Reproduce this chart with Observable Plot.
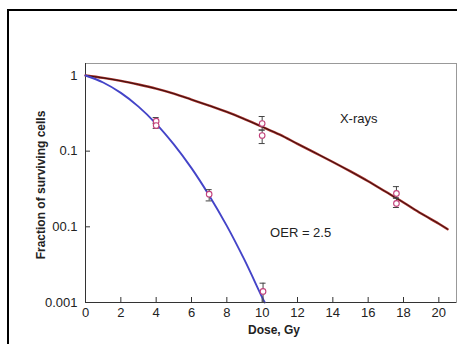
<!DOCTYPE html>
<html>
<head>
<meta charset="utf-8">
<script src="https://cdn.jsdelivr.net/npm/d3@7"></script>
<script src="https://cdn.jsdelivr.net/npm/@observablehq/plot@0.6"></script>
<style>
  html, body { margin: 0; padding: 0; background: #fff; }
  #wrap { position: relative; width: 457px; height: 344px; overflow: hidden; background: #fff; }
  #border { position: absolute; left: 7px; top: 9px; width: 600px; height: 500px;
            border-left: 2px solid #000; border-top: 2px solid #000; }
  #chart { position: absolute; left: 0; top: 0; }
</style>
</head>
<body>
<div id="wrap"><div id="border"></div><div id="chart"></div></div>
<script>
// X-ray curve (hypoxic, dark red)
const hypoxicDose = [0, 1, 2, 3, 4, 5, 6, 7, 8, 9, 10, 11, 12, 13, 14, 15, 16, 17, 18, 19, 20, 20.5];
const hypoxicSurv = [1, 0.93, 0.85, 0.76, 0.67, 0.575, 0.48, 0.40, 0.33, 0.265, 0.21, 0.165, 0.125, 0.095, 0.072, 0.054, 0.040, 0.029, 0.021, 0.015, 0.011, 0.0093];
// Blue curve (aerated)
const oxicDose = [0, 1, 2, 3, 4, 5, 6, 7, 8, 9, 10, 10.15];
const oxicSurv = [1, 0.808, 0.589, 0.388, 0.230, 0.123, 0.0597, 0.026, 0.0103, 0.00365, 0.00117, 0.001];

// Measured points with error bars
const hypoxicPtDose = [10, 10, 17.6, 17.6];
const hypoxicPtSurv = [0.232, 0.161, 0.0276, 0.0204];
const hypoxicPtLo   = [0.19, 0.126, 0.024, 0.018];
const hypoxicPtHi   = [0.287, 0.19, 0.034, 0.024];
const oxicPtDose = [4, 4, 7, 10.05];
const oxicPtSurv = [0.249, 0.218, 0.027, 0.0014];
const oxicPtLo   = [0.23, 0.2, 0.022, 0.001];
const oxicPtHi   = [0.278, 0.235, 0.031, 0.0018];

const xTicks = [0, 2, 4, 6, 8, 10, 12, 14, 16, 18, 20];
const yTicks = [1, 0.1, 0.01, 0.001];
const yTickLabels = ["1", "0.1", "00.1", "0.001"];

const annotText = ["X-rays", "OER = 2.5"];
const annotDose = [14.4, 10.45];
const annotSurv = [0.27, 0.0084];

const xLabel = "Dose, Gy";
const yLabel = "Fraction of surviving cells";

const hypoxic = hypoxicDose.map((d, i) => ({dose: d, surv: hypoxicSurv[i]}));
const oxic = oxicDose.map((d, i) => ({dose: d, surv: oxicSurv[i]}));
const points = [
  ...hypoxicPtDose.map((d, i) => ({dose: d, s: hypoxicPtSurv[i], lo: hypoxicPtLo[i], hi: hypoxicPtHi[i]})),
  ...oxicPtDose.map((d, i) => ({dose: d, s: oxicPtSurv[i], lo: oxicPtLo[i], hi: oxicPtHi[i]}))
];
const annots = annotText.map((t, i) => ({t, dose: annotDose[i], s: annotSurv[i]}));
const cap = 0.17;

const chart = Plot.plot({
  width: 457,
  height: 344,
  marginLeft: 85,
  marginRight: 1,
  marginTop: 63,
  marginBottom: 42,
  style: {fontFamily: "'Liberation Sans', Arial, sans-serif", fontSize: "13px", color: "#222", background: "transparent", overflow: "visible"},
  x: {domain: [0, 21], ticks: xTicks, tickSize: 0, tickPadding: 5, label: null, tickFormat: d => String(d)},
  y: {type: "log", domain: [0.001, 1.44], ticks: yTicks, tickSize: 0, tickPadding: 8, label: null,
      tickFormat: d => yTickLabels[yTicks.indexOf(d)]},
  marks: [
    Plot.frame({stroke: "#999"}),
    Plot.ruleX([0], {stroke: "#333"}),
    Plot.ruleY([0.001], {stroke: "#333"}),
    Plot.ruleX(xTicks.slice(1), {x: d => d, insetTop: 234, stroke: "#333"}),
    Plot.ruleY(yTicks, {y: d => d, insetRight: 366, stroke: "#333"}),
    Plot.line(hypoxic, {x: "dose", y: "surv", stroke: "#a8302a", strokeWidth: 2.4, curve: "catmull-rom"}),
    Plot.line(hypoxic, {x: "dose", y: "surv", stroke: "#2a0c0c", strokeWidth: 0.9, curve: "catmull-rom"}),
    Plot.line(oxic, {x: "dose", y: "surv", stroke: "#4444c8", strokeWidth: 1.9, curve: "catmull-rom"}),
    Plot.ruleX(points, {x: "dose", y1: "lo", y2: "hi", stroke: "#444", strokeWidth: 1}),
    Plot.ruleY(points, {y: "hi", x1: d => d.dose - cap, x2: d => d.dose + cap, stroke: "#444", strokeWidth: 1}),
    Plot.ruleY(points, {y: "lo", x1: d => d.dose - cap, x2: d => d.dose + cap, stroke: "#444", strokeWidth: 1}),
    Plot.dot(points, {x: "dose", y: "s", r: 2.8, stroke: "#c2407a", fill: "white", strokeWidth: 1.1}),
    Plot.text(annots, {x: "dose", y: "s", text: "t", textAnchor: "start", fontSize: 13, fill: "#222"}),
    Plot.text([xLabel], {text: d => d, frameAnchor: "bottom", dy: 31, dx: 3, fontWeight: "bold", fontSize: 12, fill: "#222"}),
    Plot.text([yLabel], {text: d => d, frameAnchor: "left", textAnchor: "middle", dx: -44, dy: 2, rotate: -90, fontWeight: "bold", fontSize: 12, fill: "#222"})
  ]
});
document.getElementById("chart").appendChild(chart);
</script>
</body>
</html>
